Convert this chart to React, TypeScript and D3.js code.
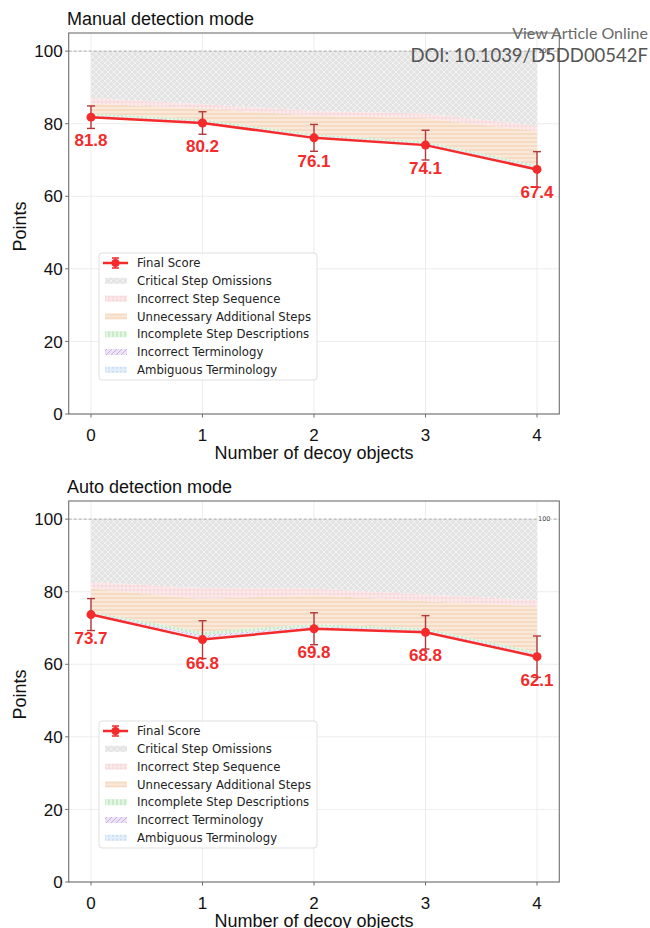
import * as d3 from "d3";

const WIDTH = 650;
const HEIGHT = 928;
const MARGIN = { left: 68.7, right: 90.7 };
const PLOT_H = 381;
const FONT = "Liberation Sans, Arial, sans-serif";
const LEGEND_FONT = "DejaVu Sans, sans-serif";

const X_VALUES = [0, 1, 2, 3, 4];
const Y_TICKS = [0, 20, 40, 60, 80, 100];

// stacking order from the final score up to 100
const KEYS = ["ambiguous", "incorrectTerm", "incomplete", "unnecessary", "sequence", "critical"];
const LEGEND_LABELS = [
  "Critical Step Omissions",
  "Incorrect Step Sequence",
  "Unnecessary Additional Steps",
  "Incomplete Step Descriptions",
  "Incorrect Terminology",
  "Ambiguous Terminology",
];
const LEGEND_KEYS = ["critical", "sequence", "unnecessary", "incomplete", "incorrectTerm", "ambiguous"];

// Manual detection mode
const manualFinal = [81.8, 80.2, 76.1, 74.1, 67.4];
const manualErr = [3.1, 3.1, 3.7, 4.1, 4.9];
const manualCritical = [12.9, 14.6, 16.5, 17.2, 20.5];
const manualSequence = [1.5, 1.2, 1.3, 1.3, 1.5];
const manualUnnecessary = [2.8, 3.0, 5.1, 6.4, 9.4];
const manualIncomplete = [0.5, 0.5, 0.5, 0.5, 0.6];
const manualIncorrectTerm = [0.2, 0.2, 0.2, 0.2, 0.3];
const manualAmbiguous = [0.3, 0.3, 0.3, 0.3, 0.3];

// Auto detection mode
const autoFinal = [73.7, 66.8, 69.8, 68.8, 62.1];
const autoErr = [4.4, 5.2, 4.4, 4.6, 5.7];
const autoCritical = [17.3, 19.0, 19.1, 20.8, 22.3];
const autoSequence = [1.8, 3.0, 1.8, 1.8, 1.7];
const autoUnnecessary = [6.4, 9.0, 8.0, 7.5, 12.6];
const autoIncomplete = [0.4, 1.0, 0.6, 0.5, 0.6];
const autoIncorrectTerm = [0.2, 0.6, 0.3, 0.3, 0.3];
const autoAmbiguous = [0.2, 0.6, 0.4, 0.3, 0.4];

const RED = "#f52a2a";
const ERR_COLOR = "#b2383a";

const Patterns = () => (
  <defs>
    <pattern id="p-critical" width={6} height={6} patternUnits="userSpaceOnUse">
      <rect width={6} height={6} fill="#e3e3e3" />
      <path d="M0,0 L6,6 M6,0 L0,6" stroke="#f4f4f4" strokeWidth={0.9} />
    </pattern>
    <pattern id="p-sequence" width={4} height={4} patternUnits="userSpaceOnUse">
      <rect width={4} height={4} fill="#fcebec" />
      <path d="M2,0 V4 M0,2 H4" stroke="#f4c8cd" strokeWidth={0.6} />
    </pattern>
    <pattern id="p-unnecessary" width={4} height={4} patternUnits="userSpaceOnUse">
      <rect width={4} height={4} fill="#fae8d9" />
      <path d="M0,2 H4" stroke="#f0cdb0" strokeWidth={1} />
    </pattern>
    <pattern id="p-incomplete" width={4} height={4} patternUnits="userSpaceOnUse">
      <rect width={4} height={4} fill="#e3f5e3" />
      <path d="M2,0 V4" stroke="#b1e0b1" strokeWidth={1} />
    </pattern>
    <pattern id="p-incorrectTerm" width={5} height={5} patternUnits="userSpaceOnUse">
      <rect width={5} height={5} fill="#ede3f7" />
      <path d="M0,5 L5,0 M-1,1 L1,-1 M4,6 L6,4" stroke="#c6afe3" strokeWidth={1} />
    </pattern>
    <pattern id="p-ambiguous" width={4} height={4} patternUnits="userSpaceOnUse">
      <rect width={4} height={4} fill="#e2eef9" />
      <circle cx={2} cy={2} r={0.8} fill="#b3cfec" />
    </pattern>
  </defs>
);

const Legend = ({ x, y }: { x: number; y: number }) => {
  const rowH = 17.8;
  return (
    <g transform={`translate(${x},${y})`}>
      <rect x={0} y={0} width={218} height={127} rx={3} fill="white" fillOpacity={0.85} stroke="#d8d8d8" strokeWidth={0.8} />
      <g transform={`translate(0,${10})`}>
        <line x1={4} x2={29} y1={0} y2={0} stroke={RED} strokeWidth={2.5} />
        <line x1={16.5} x2={16.5} y1={-5} y2={5} stroke={RED} strokeWidth={1.5} />
        <line x1={13} x2={20} y1={-5} y2={-5} stroke={RED} strokeWidth={1.5} />
        <line x1={13} x2={20} y1={5} y2={5} stroke={RED} strokeWidth={1.5} />
        <circle cx={16.5} cy={0} r={4} fill={RED} />
        <text x={38} y={0} dy="0.35em" fontFamily={LEGEND_FONT} fontSize={11.7} fill="#222">
          Final Score
        </text>
      </g>
      {LEGEND_LABELS.map((label, i) => (
        <g key={label} transform={`translate(0,${10 + (i + 1) * rowH})`}>
          <rect x={6} y={-3} width={22} height={6} fill={`url(#p-${LEGEND_KEYS[i]})`} />
          <text x={38} y={0} dy="0.35em" fontFamily={LEGEND_FONT} fontSize={11.7} fill="#222">
            {label}
          </text>
        </g>
      ))}
    </g>
  );
};

type PanelProps = {
  top: number;
  title: string;
  final: number[];
  err: number[];
  layers: Record<string, number[]>;
};

const Panel = ({ top, title, final, err, layers }: PanelProps) => {
  const bottom = top + PLOT_H;
  const left = MARGIN.left;
  const right = WIDTH - MARGIN.right;

  const xScale = d3.scaleLinear().domain([-0.2, 4.2]).range([left, right]);
  const yScale = d3.scaleLinear().domain([0, 105]).range([bottom, top]);

  const rows = X_VALUES.map((x, i) => {
    const row: Record<string, number> = { x, final: final[i] };
    KEYS.forEach((k) => (row[k] = layers[k][i]));
    return row;
  });
  const series = d3.stack<Record<string, number>>().keys(["final", ...KEYS])(rows);

  const area = d3
    .area<d3.SeriesPoint<Record<string, number>>>()
    .x((d) => xScale(d.data.x))
    .y0((d) => yScale(d[0]))
    .y1((d) => yScale(d[1]));

  const line = d3
    .line<number>()
    .x((_, i) => xScale(X_VALUES[i]))
    .y((d) => yScale(d));

  return (
    <g>
      <text x={67} y={top - 8} fontFamily={FONT} fontSize={18} fill="#111">
        {title}
      </text>
      {/* grid */}
      {X_VALUES.map((v) => (
        <line key={`gx${v}`} x1={xScale(v)} x2={xScale(v)} y1={top} y2={bottom} stroke="#e9e9e9" strokeWidth={0.8} />
      ))}
      {Y_TICKS.map((v) => (
        <line key={`gy${v}`} x1={left} x2={right} y1={yScale(v)} y2={yScale(v)} stroke="#e9e9e9" strokeWidth={0.8} />
      ))}
      {/* stacked deductions */}
      {series.slice(1).map((s) => (
        <path key={s.key} d={area(s) || ""} fill={`url(#p-${s.key})`} />
      ))}
      {/* 100 reference */}
      <line x1={left} x2={right} y1={yScale(100)} y2={yScale(100)} stroke="#999" strokeWidth={0.8} strokeDasharray="3,2" />
      <text
        x={xScale(4) + 1}
        y={yScale(100)}
        dy="0.35em"
        fontFamily={LEGEND_FONT}
        fontSize={6.5}
        fill="#444"
        stroke="white"
        strokeWidth={2}
        paintOrder="stroke"
      >
        100
      </text>
      {/* final score */}
      <path d={line(final) || ""} fill="none" stroke={RED} strokeWidth={2.5} />
      {final.map((v, i) => {
        const cx = xScale(X_VALUES[i]);
        return (
          <g key={i}>
            <line x1={cx} x2={cx} y1={yScale(v + err[i])} y2={yScale(v - err[i])} stroke={ERR_COLOR} strokeWidth={1.4} />
            <line x1={cx - 4} x2={cx + 4} y1={yScale(v + err[i])} y2={yScale(v + err[i])} stroke={ERR_COLOR} strokeWidth={1.4} />
            <line x1={cx - 4} x2={cx + 4} y1={yScale(v - err[i])} y2={yScale(v - err[i])} stroke={ERR_COLOR} strokeWidth={1.4} />
            <circle cx={cx} cy={yScale(v)} r={4.5} fill={RED} />
            <text
              x={cx}
              y={yScale(v) + 29}
              textAnchor="middle"
              fontFamily={FONT}
              fontWeight="bold"
              fontSize={17}
              fill={RED}
            >
              {v.toFixed(1)}
            </text>
          </g>
        );
      })}
      {/* axes frame */}
      <rect x={left} y={top} width={right - left} height={PLOT_H} fill="none" stroke="#6f6f6f" strokeWidth={1.1} />
      {Y_TICKS.map((v) => (
        <g key={`ty${v}`}>
          <line x1={left - 3.5} x2={left} y1={yScale(v)} y2={yScale(v)} stroke="#6f6f6f" strokeWidth={1} />
          <text x={left - 6} y={yScale(v)} dy="0.36em" textAnchor="end" fontFamily={FONT} fontSize={17} fill="#111">
            {v}
          </text>
        </g>
      ))}
      {X_VALUES.map((v) => (
        <g key={`tx${v}`}>
          <line x1={xScale(v)} x2={xScale(v)} y1={bottom} y2={bottom + 3.5} stroke="#6f6f6f" strokeWidth={1} />
          <text x={xScale(v)} y={bottom + 27} textAnchor="middle" fontFamily={FONT} fontSize={17} fill="#111">
            {v}
          </text>
        </g>
      ))}
      <text x={(left + right) / 2} y={bottom + 45} textAnchor="middle" fontFamily={FONT} fontSize={18} fill="#111">
        Number of decoy objects
      </text>
      <text
        transform={`translate(26,${(top + bottom) / 2 + 3}) rotate(-90)`}
        textAnchor="middle"
        fontFamily={FONT}
        fontSize={18}
        fill="#111"
      >
        Points
      </text>
      <Legend x={99} y={bottom - 161} />
    </g>
  );
};

export default function App() {
  return (
    <svg width={WIDTH} height={HEIGHT} style={{ position: "absolute", left: 0, top: 0, background: "white" }}>
      <Patterns />
      <rect width={WIDTH} height={HEIGHT} fill="white" />
      <Panel
        top={33}
        title="Manual detection mode"
        final={manualFinal}
        err={manualErr}
        layers={{
          critical: manualCritical,
          sequence: manualSequence,
          unnecessary: manualUnnecessary,
          incomplete: manualIncomplete,
          incorrectTerm: manualIncorrectTerm,
          ambiguous: manualAmbiguous,
        }}
      />
      <Panel
        top={501}
        title="Auto detection mode"
        final={autoFinal}
        err={autoErr}
        layers={{
          critical: autoCritical,
          sequence: autoSequence,
          unnecessary: autoUnnecessary,
          incomplete: autoIncomplete,
          incorrectTerm: autoIncorrectTerm,
          ambiguous: autoAmbiguous,
        }}
      />
      <text x={648} y={39} textAnchor="end" fontFamily="Lato, sans-serif" fontSize={16} fill="#6a6a6a">
        View Article Online
      </text>
      <text x={648} y={62} textAnchor="end" fontFamily="Lato, sans-serif" fontSize={18.5} fill="#555">
        DOI: 10.1039/D5DD00542F
      </text>
    </svg>
  );
}
